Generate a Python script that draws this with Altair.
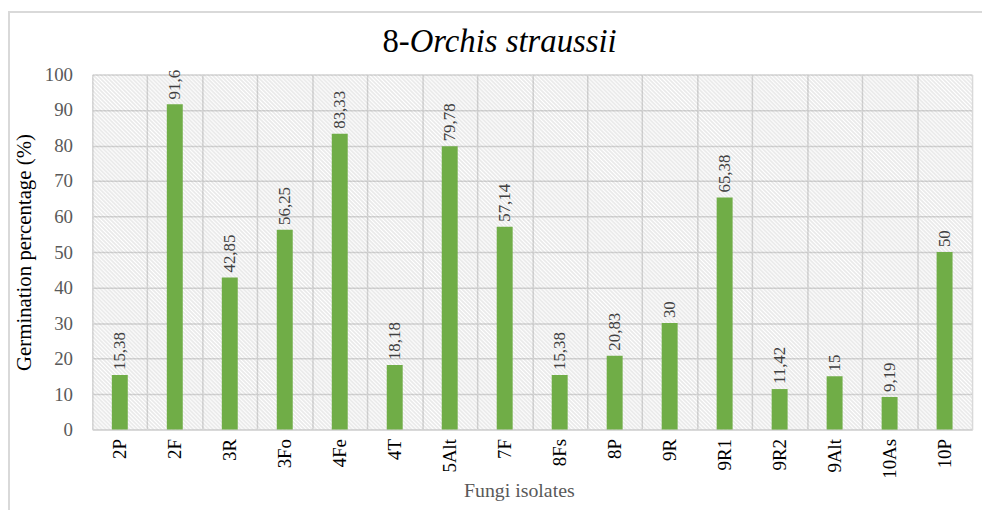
import altair as alt
import pandas as pd

# ---- data ----
isolates = ["2P", "2F", "3R", "3Fo", "4Fe", "4T", "5Alt", "7F",
            "8Fs", "8P", "9R", "9R1", "9R2", "9Alt", "10As", "10P"]
germination = [15.38, 91.6, 42.85, 56.25, 83.33, 18.18, 79.78, 57.14,
               15.38, 20.83, 30, 65.38, 11.42, 15, 9.19, 50]
value_labels = ["15,38", "91,6", "42,85", "56,25", "83,33", "18,18", "79,78", "57,14",
                "15,38", "20,83", "30", "65,38", "11,42", "15", "9,19", "50"]
y_ticks = list(range(0, 101, 10))

df = pd.DataFrame({"isolate": isolates, "value": germination, "label": value_labels})

W, H = 887, 358
SERIF = "'Liberation Serif', 'Times New Roman', serif"
GRID = "#d9d9d9"

# diagonal hatch pattern as a many-stop gradient (decoration only)
N = 443
stops = []
for i in range(N):
    stops.append(alt.GradientStop(offset=i / N, color="rgba(0,0,0,0)"))
    stops.append(alt.GradientStop(offset=(i + 0.5) / N, color="rgba(110,110,110,0.15)"))
stops.append(alt.GradientStop(offset=1.0, color="rgba(0,0,0,0)"))
hatch_fill = alt.LinearGradient(gradient="linear", stops=stops, x1=0, y1=1, x2=1, y2=0)

one = pd.DataFrame({"k": [0]})

border = alt.Chart(one).mark_rect(filled=False, stroke=GRID, strokeWidth=2).encode(
    x=alt.value(-84), x2=alt.value(930), y=alt.value(-63), y2=alt.value(480)
)

hatch = alt.Chart(one).mark_rect(clip=True, color=hatch_fill).encode(
    x=alt.value(0), x2=alt.value(W), y=alt.value(-(W - H) / 2), y2=alt.value(H + (W - H) / 2)
)

x_axis = alt.Axis(
    title="Fungi isolates", tickBand="extent", grid=True, gridColor=GRID, gridWidth=1.5,
    ticks=False, domainColor=GRID, domainWidth=2,
    labelAngle=270, labelAlign="right", labelBaseline="middle", labelOverlap=False,
    labelFont=SERIF, labelFontSize=19, labelColor="#000000", labelPadding=9,
    titleFont=SERIF, titleFontSize=20, titleFontWeight="normal", titleColor="#595959",
    titleX=430, titleY=61, titleAlign="center", titleBaseline="middle",
)
y_axis = alt.Axis(
    values=y_ticks, grid=True, gridColor=GRID, gridWidth=1.5, domain=False, ticks=False,
    labelOverlap=False,
    labelFont=SERIF, labelFontSize=19, labelColor="#595959", labelPadding=20,
    title="Germination percentage (%)", titleFont=SERIF, titleFontSize=21,
    titleFontWeight="normal", titleColor="#000000",
    titleX=-68, titleY=H / 2, titleAngle=270, titleAlign="center", titleBaseline="middle",
)


def x_enc():
    return alt.X("isolate:N", sort=isolates,
                 scale=alt.Scale(paddingInner=0, paddingOuter=0), axis=x_axis)


def y_enc():
    return alt.Y("value:Q", scale=alt.Scale(domain=[0, 100], nice=False), axis=y_axis)


bars = alt.Chart(df).mark_bar(color="#70AD47", width=alt.RelativeBandSize(0.29)).encode(
    x=x_enc(), y=y_enc()
)

labels = alt.Chart(df).mark_text(
    angle=270, align="left", baseline="middle", dx=5,
    font=SERIF, fontSize=17, color="#404040"
).encode(x=x_enc(), y=y_enc(), text="label:N")

title_a = alt.Chart(one).mark_text(
    align="right", baseline="middle", font=SERIF, fontSize=33, color="#000000"
).encode(x=alt.value(320), y=alt.value(-33), text=alt.value("8-"))

title_b = alt.Chart(one).mark_text(
    align="left", baseline="middle", font=SERIF, fontSize=33, fontStyle="italic", color="#000000"
).encode(x=alt.value(320), y=alt.value(-33), text=alt.value("Orchis straussii"))

chart = alt.layer(border, hatch, bars, labels, title_a, title_b).properties(
    width=W, height=H,
    padding={"left": 85, "top": 65, "right": 10, "bottom": 79},
    autosize=alt.AutoSizeParams(type="none"),
    background="white",
).configure_view(strokeWidth=0)

chart.save("out.html", embed_options={"renderer": "svg", "actions": False})
